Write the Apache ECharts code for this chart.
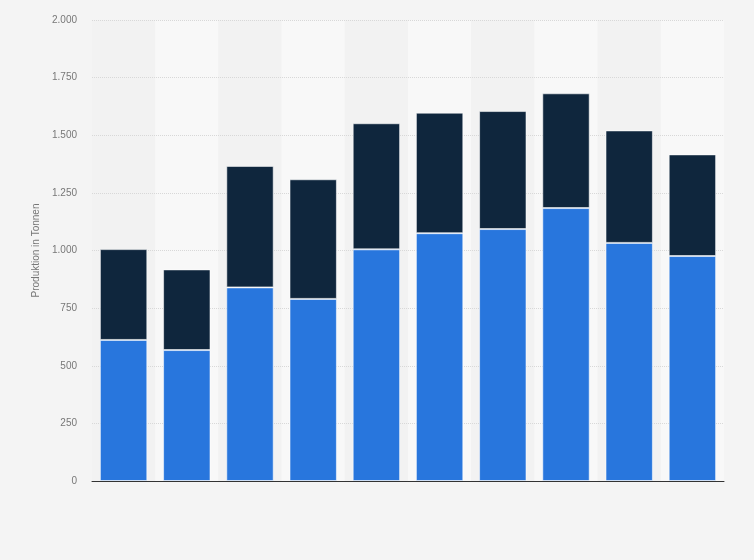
<!DOCTYPE html>
<html style="height: 100%">
<head>
<meta charset="utf-8">
<script src="https://cdn.jsdelivr.net/npm/echarts@6/dist/echarts.min.js"></script>
</head>
<body style="height: 100%; margin: 0; background: #f4f4f4">
<div id="container" style="width: 754px; height: 560px"></div>
<script type="text/javascript">
// Kategorien (ohne sichtbare Beschriftung)
var categories = ['1', '2', '3', '4', '5', '6', '7', '8', '9', '10'];
// unterer Teil (blau)
var seriesBlue = [612, 568, 840, 790, 1005, 1075, 1093, 1184, 1033, 976];
// oberer Teil (dunkel)
var seriesDark = [394, 350, 527, 519, 547, 523, 512, 498, 488, 441];

var myChart = echarts.init(document.getElementById('container'));

var barBorder = {
    borderColor: 'rgba(255,255,255,0.55)',
    borderWidth: 1
};

var option = {
    backgroundColor: '#f4f4f4',
    animation: false,
    grid: {
        left: 92,
        right: 30,
        top: 20,
        bottom: 79
    },
    xAxis: {
        type: 'category',
        data: categories,
        z: 0,
        axisTick: { show: false },
        axisLabel: { show: false },
        axisLine: { lineStyle: { color: '#333', width: 1 } },
        splitArea: {
            show: true,
            areaStyle: { color: ['#f2f2f2', '#f8f8f8'] }
        }
    },
    yAxis: {
        type: 'value',
        z: 1,
        min: 0,
        max: 2000,
        interval: 250,
        name: 'Produktion in Tonnen',
        nameLocation: 'middle',
        nameGap: 48,
        nameTextStyle: { color: '#777', fontSize: 10, fontFamily: 'Arial, Liberation Sans' },
        axisLine: { show: false },
        axisTick: { show: false },
        axisLabel: {
            color: '#777',
            fontSize: 10,
            fontFamily: 'Arial, Liberation Sans',
            margin: 15,
            formatter: function (v) {
                return String(v).replace(/\B(?=(\d{3})+(?!\d))/g, '.');
            }
        },
        splitLine: {
            showMinLine: false,
            lineStyle: { color: '#d8d8d8', type: [1, 1], width: 1 }
        }
    },
    series: [
        {
            type: 'bar',
            stack: 'total',
            barCategoryGap: '25%',
            data: seriesBlue,
            itemStyle: Object.assign({ color: '#2876dd' }, barBorder)
        },
        {
            type: 'bar',
            stack: 'total',
            data: seriesDark,
            itemStyle: Object.assign({ color: '#0f263d' }, barBorder)
        }
    ]
};

myChart.setOption(option);
</script>
</body>
</html>
